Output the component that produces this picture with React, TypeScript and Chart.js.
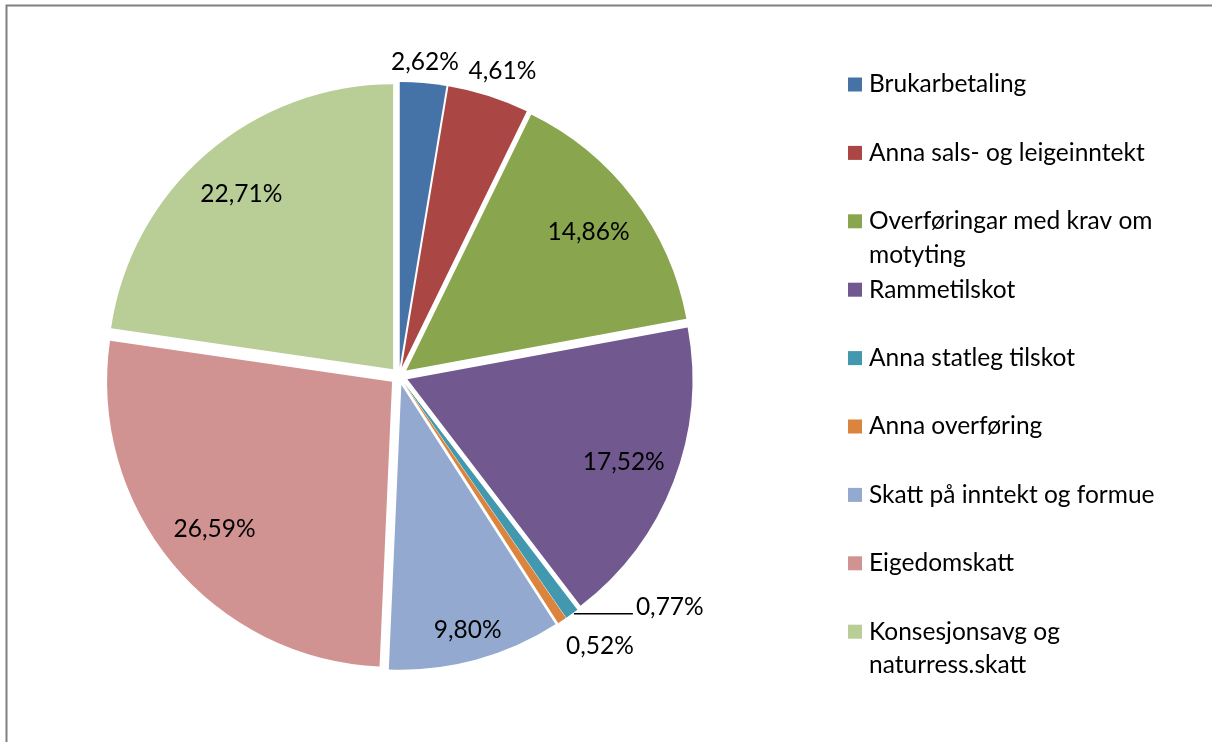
import React, { useEffect, useRef } from "react";
import { Chart, registerables } from "chart.js";

Chart.register(...registerables);

const categories = [
  "Brukarbetaling",
  "Anna sals- og leigeinntekt",
  "Overføringar med krav om\nmotyting",
  "Rammetilskot",
  "Anna statleg tilskot",
  "Anna overføring",
  "Skatt på inntekt og formue",
  "Eigedomskatt",
  "Konsesjonsavg og\nnaturress.skatt",
];

const shares = [2.62, 4.61, 14.86, 17.52, 0.77, 0.52, 9.8, 26.59, 22.71];

const colors = [
  "#4572A7",
  "#AA4643",
  "#89A54E",
  "#71588F",
  "#4198AF",
  "#DB843D",
  "#93A9CF",
  "#D19392",
  "#B9CD96",
];

// label placement: radius factor relative to pie radius, angle tweak (deg), leader line flag
const labelRadius = [1.105, 1.13, 0.835, 0.845, 1.0, 1.18, 0.925, 0.84, 0.845];
const labelAngleTweak = [0, 1, 0, 0, 0, -3, 0, 0, 0];
const labelLeader = [false, false, false, false, true, false, false, false, false];

const FONT = "24.5px Lato, 'Open Sans', sans-serif";
const EXPLODE = 9;

const fmt = (v: number) => v.toFixed(2).replace(".", ",") + "%";

const framePlugin = {
  id: "frame",
  beforeDraw(chart: any) {
    const ctx = chart.ctx;
    ctx.save();
    ctx.strokeStyle = "#808080";
    ctx.lineWidth = 2;
    ctx.beginPath();
    ctx.moveTo(6.5, chart.height);
    ctx.lineTo(6.5, 5.5);
    ctx.lineTo(chart.width, 5.5);
    ctx.stroke();
    ctx.restore();
  },
};

const explodePlugin = {
  id: "explode",
  beforeDatasetsDraw(chart: any) {
    const ca = chart.chartArea;
    const cx = (ca.left + ca.right) / 2;
    const cy = (ca.top + ca.bottom) / 2;
    const meta = chart.getDatasetMeta(0);
    meta.data.forEach((arc: any) => {
      const mid = (arc.startAngle + arc.endAngle) / 2;
      arc.x = cx + EXPLODE * Math.cos(mid);
      arc.y = cy + EXPLODE * Math.sin(mid);
    });
  },
};

const labelsPlugin = {
  id: "pieLabels",
  afterDatasetsDraw(chart: any) {
    const ctx = chart.ctx;
    const ca = chart.chartArea;
    const cx = (ca.left + ca.right) / 2;
    const cy = (ca.top + ca.bottom) / 2;
    const meta = chart.getDatasetMeta(0);
    ctx.save();
    ctx.font = FONT;
    ctx.fillStyle = "#000000";
    meta.data.forEach((arc: any, i: number) => {
      const mid = (arc.startAngle + arc.endAngle) / 2;
      const r = arc.outerRadius;
      const text = fmt(shares[i]);
      if (labelLeader[i]) {
        const ex = arc.x + r * Math.cos(mid);
        const ey = arc.y + r * Math.sin(mid);
        ctx.strokeStyle = "#000000";
        ctx.lineWidth = 1.5;
        ctx.beginPath();
        ctx.moveTo(ex + 2, ey);
        ctx.lineTo(ex + 61, ey);
        ctx.stroke();
        ctx.textAlign = "left";
        ctx.textBaseline = "middle";
        ctx.fillText(text, ex + 64, ey - 7);
      } else {
        const a = mid + (labelAngleTweak[i] * Math.PI) / 180;
        const d = r * labelRadius[i];
        ctx.textAlign = "center";
        ctx.textBaseline = "middle";
        ctx.fillText(text, cx + d * Math.cos(a), cy + d * Math.sin(a));
      }
    });
    ctx.restore();
  },
};

const legendPlugin = {
  id: "customLegend",
  afterDraw(chart: any) {
    const ctx = chart.ctx;
    ctx.save();
    ctx.font = FONT;
    ctx.textAlign = "left";
    ctx.textBaseline = "middle";
    const x0 = 848;
    const y0 = 84.5;
    const step = 68.4;
    const lineH = 33.5;
    categories.forEach((label, i) => {
      const y = y0 + i * step;
      ctx.fillStyle = colors[i];
      ctx.fillRect(x0, y - 7, 14, 14);
      ctx.fillStyle = "#000000";
      label.split("\n").forEach((line, j) => {
        ctx.fillText(line, x0 + 21, y + j * lineH);
      });
    });
    ctx.restore();
  },
};

export default function App() {
  const ref = useRef<HTMLCanvasElement | null>(null);
  useEffect(() => {
    if (!ref.current) return;
    const chart = new Chart(ref.current, {
      type: "pie",
      data: {
        labels: categories,
        datasets: [
          {
            data: shares,
            backgroundColor: colors,
            borderWidth: 0,
            offset: 0,
            hoverOffset: 0,
          },
        ],
      },
      options: {
        responsive: false,
        animation: false,
        events: [],
        layout: { padding: { left: 114, right: 528, top: 91, bottom: 81 } },
        plugins: {
          legend: { display: false },
          tooltip: { enabled: false },
          title: { display: false },
        },
      },
      plugins: [framePlugin, explodePlugin, labelsPlugin, legendPlugin],
    });
    return () => chart.destroy();
  }, []);
  return (
    <div style={{ position: "absolute", left: 0, top: 0, width: 1212, height: 742, background: "#ffffff" }}>
      <canvas ref={ref} width={1212} height={742} style={{ display: "block" }} />
    </div>
  );
}
